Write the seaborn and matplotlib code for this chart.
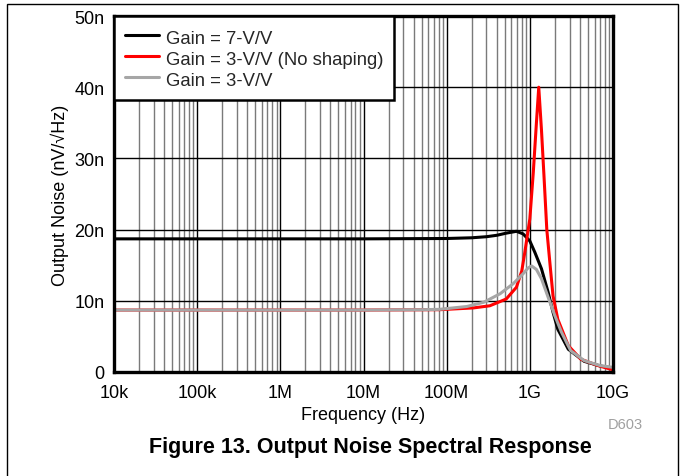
import matplotlib
matplotlib.use("Agg")
import matplotlib.pyplot as plt
import matplotlib.ticker as mticker
from matplotlib.patches import Rectangle
import seaborn as sns
import pandas as pd

# ---- data (noise in nV/sqrt(Hz)) ----
freq_g7 = [1e4, 1e5, 1e6, 1e7, 1e8, 2e8, 3e8, 4e8, 5.2e8, 6.9e8, 8.3e8, 1e9,
           1.15e9, 1.38e9, 1.66e9, 1.9e9, 2.17e9, 2.9e9, 4.5e9, 7e9, 1e10]
noise_g7 = [18.7, 18.7, 18.7, 18.7, 18.75, 18.85, 19.0, 19.2, 19.5, 19.76, 19.4, 18.4,
            16.8, 14.5, 11.2, 8.4, 6.0, 3.2, 1.5, 0.85, 0.55]

freq_g3ns = [1e4, 1e5, 1e6, 1e7, 8.2e7, 2.1e8, 3.3e8, 5.2e8, 6.9e8, 8e8, 8.7e8, 1e9,
             1.1e9, 1.2e9, 1.28e9, 1.38e9, 1.48e9, 1.6e9, 1.74e9, 1.9e9, 2.17e9, 2.9e9,
             4.1e9, 6.6e9, 1e10]
noise_g3ns = [8.7, 8.7, 8.7, 8.7, 8.75, 9.0, 9.3, 10.25, 11.9, 14.2, 16.8, 21.5,
              28.0, 35.0, 40.0, 34.0, 27.5, 20.0, 15.4, 10.7, 7.4, 3.7,
              1.8, 0.9, 0.3]

freq_g3 = [1e4, 1e5, 1e6, 1e7, 5e7, 8.2e7, 1.75e8, 2.8e8, 4.4e8, 6.3e8, 8.3e8, 9.5e8,
           1.05e9, 1.2e9, 1.38e9, 1.66e9, 2e9, 2.4e9, 3.1e9, 4.5e9, 7e9, 1e10]
noise_g3 = [8.7, 8.7, 8.7, 8.7, 8.75, 8.8, 9.2, 9.8, 11.0, 12.4, 13.8, 14.6,
            14.9, 14.4, 13.1, 10.5, 7.9, 5.6, 3.0, 1.6, 0.9, 0.65]

series_names = ["Gain = 7-V/V", "Gain = 3-V/V (No shaping)", "Gain = 3-V/V"]
series_colors = ["#000000", "#ff0000", "#a6a6a6"]

x_ticks = [1e4, 1e5, 1e6, 1e7, 1e8, 1e9, 1e10]
x_tick_labels = ["10k", "100k", "1M", "10M", "100M", "1G", "10G"]
y_ticks = [0, 10, 20, 30, 40, 50]
y_tick_labels = ["0", "10n", "20n", "30n", "40n", "50n"]

df = pd.concat([
    pd.DataFrame({"freq": freq_g7, "noise": noise_g7, "series": series_names[0]}),
    pd.DataFrame({"freq": freq_g3ns, "noise": noise_g3ns, "series": series_names[1]}),
    pd.DataFrame({"freq": freq_g3, "noise": noise_g3, "series": series_names[2]}),
], ignore_index=True)

sns.set_theme(style="white")
plt.rcParams["font.family"] = ["Liberation Sans", "DejaVu Sans"]

fig = plt.figure(figsize=(6.83, 4.77), dpi=100)
ax = fig.add_axes([114 / 683, 1 - 373 / 477, (613 - 114) / 683, (373 - 17) / 477])

sns.lineplot(data=df, x="freq", y="noise", hue="series", hue_order=series_names,
             palette=series_colors, estimator=None, sort=False, linewidth=2.2,
             ax=ax, legend=False)

ax.set_xscale("log")
ax.set_xlim(1e4, 1e10)
ax.set_ylim(0, 50)
ax.set_xticks(x_ticks)
ax.set_xticklabels(x_tick_labels)
ax.xaxis.set_minor_locator(mticker.LogLocator(base=10, subs=range(2, 10), numticks=100))
ax.xaxis.set_minor_formatter(mticker.NullFormatter())
ax.set_yticks(y_ticks)
ax.set_yticklabels(y_tick_labels)

ax.grid(True, which="major", axis="both", color="black", linewidth=1.0)
ax.grid(True, which="minor", axis="x", color="#7a7a7a", linewidth=1.0)
ax.set_axisbelow(True)
ax.tick_params(axis="both", which="both", length=0, labelsize=13, colors="black")
ax.tick_params(axis="x", pad=9)
ax.tick_params(axis="y", pad=7)

for s in ax.spines.values():
    s.set_visible(True)
    s.set_color("black")
    s.set_linewidth(2.4)

ax.set_xlabel("Frequency (Hz)", fontsize=13, color="black", labelpad=3)
ax.set_ylabel("Output Noise (nV/\u221aHz)", fontsize=13, color="black", labelpad=4)

handles = [plt.Line2D([], [], color=c, linewidth=2.2) for c in series_colors]
leg = ax.legend(handles, series_names, loc="upper left", borderaxespad=0, fontsize=13.3,
                frameon=True, fancybox=False, framealpha=1, edgecolor="black",
                handlelength=1.85, handleheight=1.32, handletextpad=0.4, labelspacing=0.05,
                borderpad=0.57)
leg.get_frame().set_linewidth(1.8)

fig.text(625 / 683, 1 - 425 / 477, "D603", fontsize=10.5, color="#a0a0a0", ha="center", va="center")
fig.text(370 / 683, 1 - 448 / 477, "Figure 13. Output Noise Spectral Response",
         fontsize=15.5, fontweight="bold", color="black", ha="center", va="center")

fig.patches.append(Rectangle((7 / 683, -0.05), (678 - 7) / 683, 1.05 - 5 / 477,
                             transform=fig.transFigure, fill=False, edgecolor="black",
                             linewidth=1.0))

fig.savefig("out.png", dpi=100)
